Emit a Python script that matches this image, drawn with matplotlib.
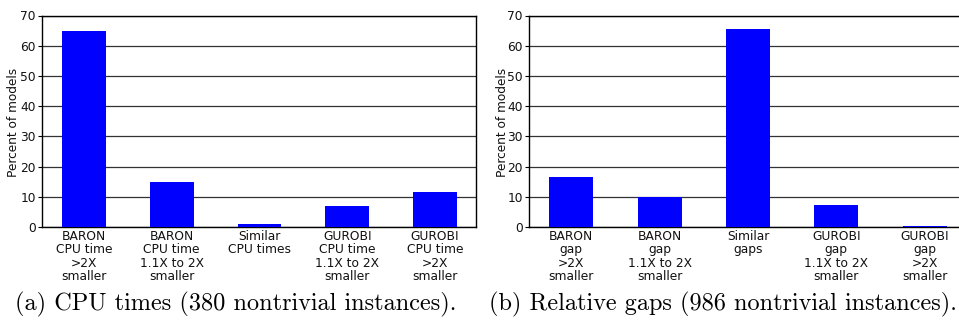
import matplotlib
matplotlib.use("Agg")
import matplotlib.pyplot as plt

cpu_labels = ["BARON\nCPU time\n>2X\nsmaller", "BARON\nCPU time\n1.1X to 2X\nsmaller",
              "Similar\nCPU times", "GUROBI\nCPU time\n1.1X to 2X\nsmaller",
              "GUROBI\nCPU time\n>2X\nsmaller"]
cpu_values = [65.0, 15.0, 1.0, 7.1, 11.7]

gap_labels = ["BARON\ngap\n>2X\nsmaller", "BARON\ngap\n1.1X to 2X\nsmaller",
              "Similar\ngaps", "GUROBI\ngap\n1.1X to 2X\nsmaller",
              "GUROBI\ngap\n>2X\nsmaller"]
gap_values = [16.7, 9.9, 65.6, 7.4, 0.4]

captions = ["(a) CPU times (380 nontrivial instances).",
            "(b) Relative gaps (986 nontrivial instances)."]
yticks = [0, 10, 20, 30, 40, 50, 60, 70]

W, H = 959, 320
fig = plt.figure(figsize=(W / 100, H / 100), dpi=100)

def px_axes(x0, x1, ytop, ybot):
    return fig.add_axes([x0 / W, 1 - ybot / H, (x1 - x0) / W, (ybot - ytop) / H])

panels = [
    (px_axes(42, 476, 15.5, 227), cpu_labels, cpu_values, 14, 15),
    (px_axes(529, 966, 15.5, 227), gap_labels, gap_values, 502, 489),
]

for i, (ax, labels, values, ylab_x, cap_x) in enumerate(panels):
    x = list(range(len(values)))
    ax.set_axisbelow(True)
    ax.yaxis.grid(True, color="#333333", linewidth=0.9)
    ax.bar(x, values, width=0.5, color="#0000ff", zorder=3)
    ax.set_xlim(-0.478, 4.467)
    ax.set_ylim(0, 70)
    ax.set_yticks(yticks)
    ax.set_xticks(x)
    ax.set_xticklabels(labels, fontsize=8.8, linespacing=1.05, color="#111111")
    ax.tick_params(axis="x", length=0, pad=2)
    ax.tick_params(axis="y", length=3, width=0.8, labelsize=8.8, pad=1.5, labelcolor="#111111")
    for s in ax.spines.values():
        s.set_linewidth(1.0)
        s.set_color("black")
    fig.text(ylab_x / W, 1 - 122 / H, "Percent of models", rotation=90,
             ha="center", va="center", fontsize=8.7, color="#111111")
    fig.text(cap_x / W, 1 - 304 / H, captions[i], ha="left", va="center",
             fontsize=17.5, family="cmr10")

fig.savefig("out.png", dpi=100)
